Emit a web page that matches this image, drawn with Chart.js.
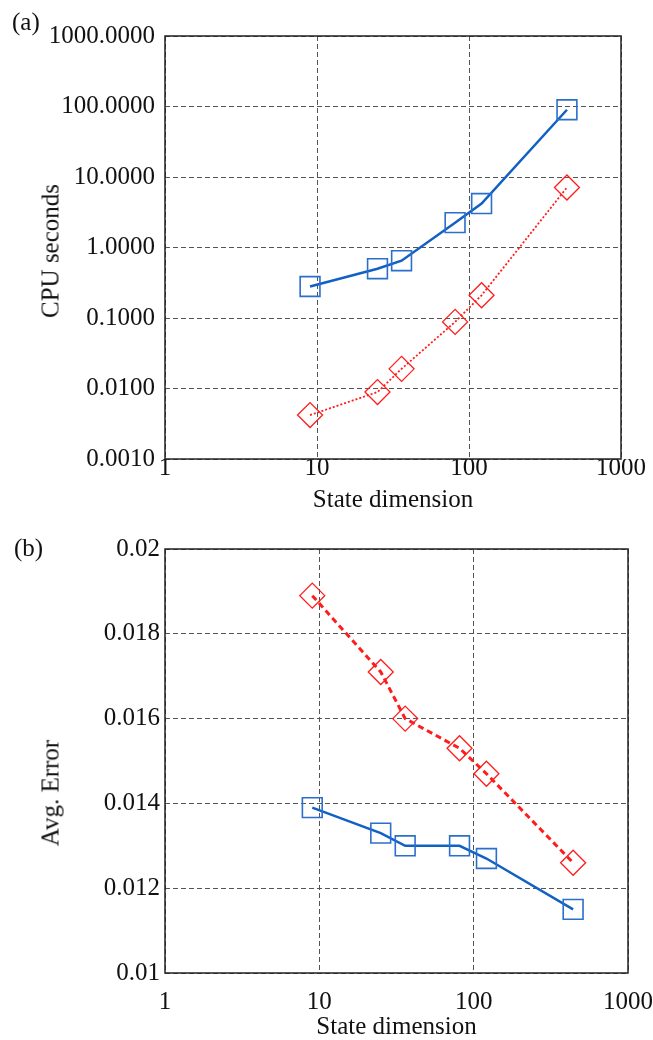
<!DOCTYPE html>
<html>
<head>
<meta charset="utf-8">
<script src="https://cdn.jsdelivr.net/npm/chart.js@4"></script>
<style>
  body { margin: 0; background: #fff; }
  #wrap { position: relative; width: 653px; height: 1040px; }
  canvas { position: absolute; left: 0; }
  .lbl { position: absolute; font-family: 'Liberation Serif', serif; font-size: 25px; line-height: 25px; color: #111; white-space: nowrap; }
  .ytitle { transform: translate(-50%, -50%) rotate(-90deg); }
</style>
</head>
<body>
<div id="wrap">
  <canvas id="cpuChart" width="653" height="520" style="top:0"></canvas>
  <canvas id="errChart" width="653" height="520" style="top:520px"></canvas>
  <div class="lbl" style="left:12px; top:9px">(a)</div>
  <div class="lbl" style="left:14px; top:535px">(b)</div>
  <div class="lbl ytitle" style="left:50px; top:251px">CPU seconds</div>
  <div class="lbl ytitle" style="left:50px; top:793px">Avg. Error</div>
</div>
<script>
// data
var stateDim = [9, 25, 36, 81, 121, 441];
var cpuBlue = [0.28, 0.50, 0.65, 2.25, 4.2, 90];
var cpuRed = [0.0042, 0.0089, 0.019, 0.088, 0.21, 7.1];
var errBlue = [0.0139, 0.0133, 0.0130, 0.0130, 0.0127, 0.0115];
var errRed = [0.0189, 0.0171, 0.0160, 0.0153, 0.0147, 0.0126];

var xTicks = [1, 10, 100, 1000];
var cpuTicks = [0.001, 0.01, 0.1, 1, 10, 100, 1000];
var errTicks = [0.01, 0.012, 0.014, 0.016, 0.018, 0.02];

var blue = '#1160c4';
var blueMark = '#2b6fcc';
var red = '#ff1c1c';
var serif = 'Liberation Serif';

function pts(ys) {
  return stateDim.map(function (x, i) { return { x: x, y: ys[i] }; });
}

// kotak hitam di sekeliling area plot
var frame = {
  id: 'frame',
  afterDatasetsDraw: function (chart) {
    var a = chart.chartArea, c = chart.ctx;
    c.save();
    c.strokeStyle = '#222';
    c.lineWidth = 1.5;
    c.strokeRect(a.left, a.top, a.right - a.left, a.bottom - a.top);
    c.restore();
  }
};

function makeChart(id, cfg) {
  return new Chart(document.getElementById(id).getContext('2d'), {
    type: 'line',
    data: {
      datasets: [{
        label: 'Series 1',
        data: pts(cfg.blue),
        borderColor: blue,
        borderWidth: 2.5,
        pointStyle: 'rect',
        pointRadius: 14,
        pointBorderColor: blueMark,
        pointBackgroundColor: 'rgba(0,0,0,0)',
        pointBorderWidth: 1.6
      }, {
        label: 'Series 2',
        data: pts(cfg.red),
        borderColor: red,
        borderWidth: cfg.redWidth,
        borderDash: cfg.redDash,
        pointStyle: 'rectRot',
        pointRadius: 12.5,
        pointBorderColor: red,
        pointBackgroundColor: 'rgba(0,0,0,0)',
        pointBorderWidth: 1.3
      }]
    },
    options: {
      responsive: false,
      animation: false,
      devicePixelRatio: 1,
      events: [],
      layout: { padding: cfg.pad },
      plugins: { legend: { display: false }, tooltip: { enabled: false } },
      scales: {
        x: {
          type: 'logarithmic',
          min: 1, max: 1000,
          border: { display: false, dash: [5, 3] },
          grid: { color: '#555', lineWidth: 1, drawTicks: false },
          ticks: {
            padding: cfg.xPad,
            color: '#111',
            font: { family: serif, size: 25, lineHeight: cfg.xLine },
            callback: function (v) { return String(v); }
          },
          afterBuildTicks: function (s) { s.ticks = xTicks.map(function (v) { return { value: v }; }); },
          afterFit: function (s) { s.height = cfg.xHeight; },
          title: {
            display: true,
            text: 'State dimension',
            color: '#111',
            font: { family: serif, size: 25 },
            padding: { top: 0, bottom: cfg.titlePad }
          }
        },
        y: {
          type: cfg.yType,
          min: cfg.yTicks[0], max: cfg.yTicks[cfg.yTicks.length - 1],
          border: { display: false, dash: [5, 3] },
          grid: { color: '#555', lineWidth: 1, drawTicks: false },
          ticks: {
            padding: cfg.yPad,
            color: '#111',
            font: { family: serif, size: 25 },
            callback: cfg.yFmt
          },
          afterBuildTicks: function (s) { s.ticks = cfg.yTicks.map(function (v) { return { value: v }; }); },
          afterFit: function (s) { s.width = 165; }
        }
      }
    },
    plugins: [frame]
  });
}

// (a) CPU seconds
var cpuChart = makeChart('cpuChart', {
  blue: cpuBlue, red: cpuRed,
  redWidth: 1.8, redDash: [2, 2],
  yType: 'logarithmic', yTicks: cpuTicks,
  yFmt: function (v) { return Number(v).toFixed(4); },
  pad: { top: 36, right: 32, left: 0, bottom: 0 },
  xHeight: 61, xPad: -6, xLine: 1.2, yPad: 10, titlePad: 5
});

// (b) Avg. Error
var errChart = makeChart('errChart', {
  blue: errBlue, red: errRed,
  redWidth: 3, redDash: [6, 4],
  yType: 'linear', yTicks: errTicks,
  yFmt: function (v) { return String(+Number(v).toFixed(3)); },
  pad: { top: 29, right: 25, left: 0, bottom: 0 },
  xHeight: 67, xPad: 0, xLine: 2.36, yPad: 5, titlePad: -2
});
</script>
</body>
</html>
